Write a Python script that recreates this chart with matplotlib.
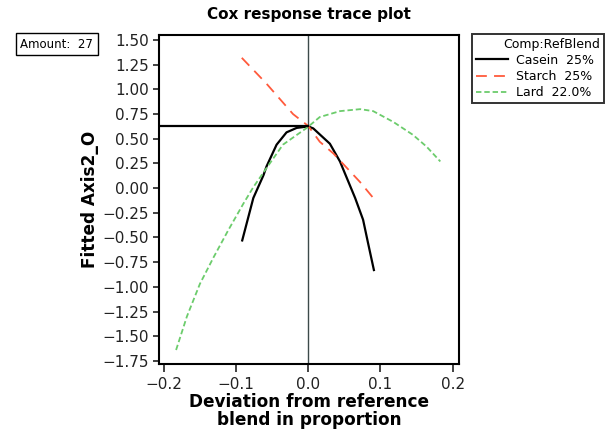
import matplotlib
matplotlib.use('Agg')
import matplotlib.pyplot as plt

# trace curves
casein_x = [-0.0914, -0.076, -0.062, -0.0577, -0.0438, -0.030, -0.016, 0.0, 0.007, 0.030, 0.044, 0.065, 0.076, 0.083, 0.091]
casein_y = [-0.53, -0.10, 0.13, 0.22, 0.44, 0.565, 0.61, 0.625, 0.605, 0.45, 0.27, -0.10, -0.32, -0.56, -0.83]

starch_x = [-0.092, -0.058, -0.021, 0.0, 0.016, 0.035, 0.072, 0.089]
starch_y = [1.32, 1.06, 0.75, 0.63, 0.47, 0.35, 0.06, -0.09]

lard_x = [-0.183, -0.168, -0.150, -0.131, -0.111, -0.090, -0.076, -0.058, -0.035, -0.002,
          0.016, 0.044, 0.072, 0.090, 0.118, 0.145, 0.164, 0.183]
lard_y = [-1.64, -1.30, -0.97, -0.70, -0.43, -0.16, 0.01, 0.20, 0.44, 0.61,
          0.72, 0.78, 0.80, 0.78, 0.67, 0.54, 0.42, 0.27]

labels = ['Casein  25%', 'Starch  25%', 'Lard  22.0%']
ref_value = 0.63
amount = 27

xticks = [-0.2, -0.1, 0.0, 0.1, 0.2]
yticks = [1.50, 1.25, 1.00, 0.75, 0.50, 0.25, 0.00, -0.25, -0.50, -0.75, -1.00, -1.25, -1.50, -1.75]

fig = plt.figure(figsize=(6.05, 4.34), dpi=100)
ax = fig.add_axes([0.263, 0.161, 0.495, 0.759])

ax.plot(casein_x, casein_y, color='black', lw=1.6, label=labels[0])
ax.plot(starch_x, starch_y, color='#ff5a3c', lw=1.3, dashes=(6, 4), label=labels[1])
ax.plot(lard_x, lard_y, color='#6ccc6c', lw=1.3, dashes=(3, 1.6), label=labels[2])

ax.axvline(0, color='#3c4a4a', lw=1.0, zorder=1)
ax.plot([-0.3, 0.0], [ref_value, ref_value], color='black', lw=1.6, zorder=3)

ax.set_xlim(-0.2065, 0.2083)
ax.set_ylim(-1.783, 1.554)
ax.set_xticks(xticks)
ax.set_xticklabels(['\u22120.2', '\u22120.1', '0.0', '0.1', '0.2'])
ax.set_yticks(yticks)
ax.set_yticklabels([f'{v:.2f}'.replace('-', '\u2212') for v in yticks])
ax.tick_params(direction='out', length=4, width=1.2, labelsize=11, colors='#222222')
ax.tick_params(axis='x', length=5.5)
for s in ax.spines.values():
    s.set_linewidth(1.5)

ax.set_title('Cox response trace plot', fontsize=11, fontweight='bold', pad=11)
ax.set_xlabel('Deviation from reference\nblend in proportion', fontsize=12.2, fontweight='bold',
              linespacing=1.0, labelpad=1)
ax.set_ylabel('Fitted Axis2_O', fontsize=12.2, fontweight='bold', labelpad=2)

# legend box spans x 472..604 px, top at 34 px
leg = fig.legend(loc='upper left', bbox_to_anchor=(472 / 605, 0.5, 132 / 605, 1 - 34 / 434 - 0.5),
                 mode='expand', fontsize=9,
                 title='Comp:RefBlend', title_fontsize=9, alignment='right',
                 frameon=True, fancybox=False, edgecolor='black', handlelength=2.6,
                 borderpad=0.3, labelspacing=0.27, handletextpad=0.6, borderaxespad=0)
leg.get_frame().set_linewidth(1.4)
leg._legend_box.sep = 2

fig.text(0.094, 0.8985, f'Amount:  {amount}', fontsize=8.5, ha='center', va='center',
         bbox=dict(boxstyle='square,pad=0.4', fc='white', ec='black', lw=1.0))

fig.savefig('out.png', dpi=100)
